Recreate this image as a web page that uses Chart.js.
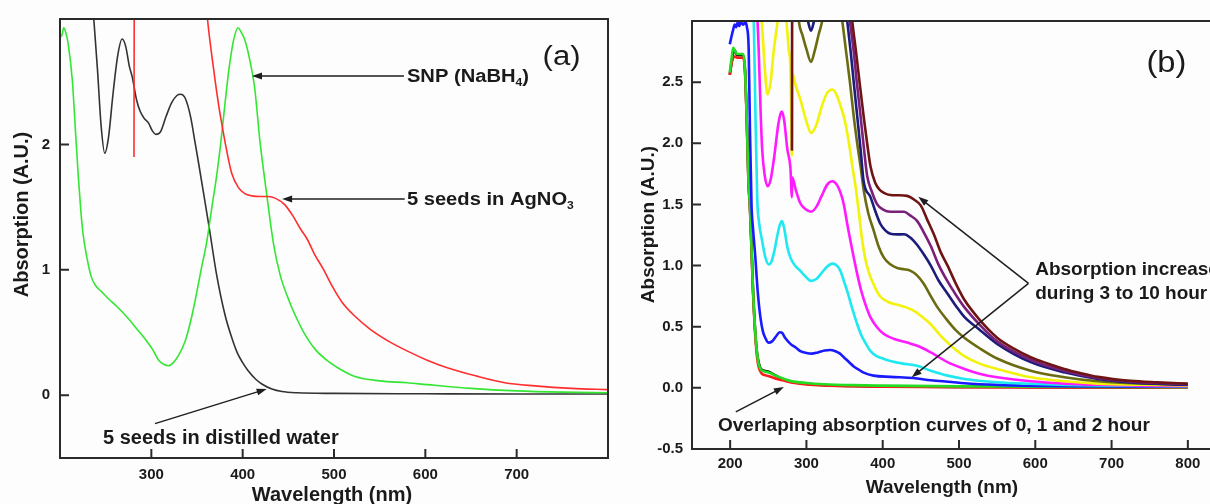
<!DOCTYPE html>
<html>
<head>
<meta charset="utf-8">
<title>UV-Vis absorption spectra</title>
<script src="https://cdn.jsdelivr.net/npm/chart.js@4.4.0/dist/chart.umd.min.js"></script>
<style>
  html, body { margin: 0; padding: 0; background: #fdfdfd; overflow: hidden; }
  canvas { display: block; }
  .panel { position: absolute; top: 0; height: 504px; overflow: hidden; }
  #panelA { left: 0; width: 610px; }
  #panelB { left: 610px; width: 600px; }
</style>
</head>
<body>
<div class="panel" id="panelA"><canvas id="chartA" width="610" height="507"></canvas></div>
<div class="panel" id="panelB"><canvas id="chartB" width="616" height="504"></canvas></div>
<script>
// ---- panel (a) data: wavelength (nm) / absorption (A.U.)
const waterX = [230, 237, 241, 245, 249, 253, 258, 263, 268, 272, 276, 279, 284, 288, 292, 297, 301, 305, 310, 316, 322, 328, 332, 337, 343, 348, 352, 357, 363.5, 371.5, 380.7, 388, 394, 400, 406, 414, 421, 432, 443, 460, 500, 600, 700, 800];
const waterY = [3.6, 3.0, 2.6, 2.15, 1.93, 2.05, 2.4, 2.7, 2.84, 2.78, 2.62, 2.54, 2.35, 2.26, 2.21, 2.17, 2.11, 2.08, 2.1, 2.22, 2.33, 2.39, 2.40, 2.37, 2.22, 2.01, 1.84, 1.62, 1.33, 0.96, 0.64, 0.46, 0.34, 0.26, 0.195, 0.13, 0.09, 0.05, 0.03, 0.02, 0.015, 0.012, 0.01, 0.01];

const agno3X = [281, 281.5, 355, 361.5, 366, 370, 374, 377, 382, 388, 395, 402, 410, 420, 428, 436, 446, 455, 463, 471, 479, 488, 498, 509, 523, 539, 560, 581, 602, 624, 655, 687, 720, 760, 800];
const agno3Y = [1.90, 3.8, 3.6, 3.0, 2.72, 2.5, 2.3, 2.17, 1.97, 1.77, 1.66, 1.61, 1.59, 1.585, 1.585, 1.57, 1.52, 1.43, 1.33, 1.24, 1.12, 1.01, 0.87, 0.74, 0.63, 0.53, 0.43, 0.35, 0.28, 0.22, 0.155, 0.10, 0.075, 0.055, 0.045];

const snpX = [200, 202.5, 204, 206, 209, 213.5, 217, 220, 222.5, 225, 229.8, 234, 238.9, 245, 253, 262, 275, 284, 293, 301, 308, 314, 319, 324, 330, 337, 344, 350, 355, 360.6, 366, 371.5, 376, 381, 385, 390, 395, 398, 402, 407, 413, 419, 426, 433.5, 441, 451, 460, 467, 479, 492, 504, 523, 550, 580, 602, 650, 700, 750, 800];
const snpY = [2.85, 2.88, 2.93, 2.90, 2.8, 2.51, 2.1, 1.75, 1.5, 1.3, 1.085, 0.95, 0.875, 0.83, 0.77, 0.71, 0.61, 0.53, 0.45, 0.37, 0.28, 0.245, 0.235, 0.26, 0.32, 0.43, 0.62, 0.83, 1.02, 1.22, 1.485, 1.75, 2.01, 2.35, 2.6, 2.83, 2.93, 2.90, 2.84, 2.7, 2.46, 2.02, 1.62, 1.22, 0.96, 0.75, 0.6, 0.5, 0.37, 0.28, 0.22, 0.15, 0.115, 0.1, 0.085, 0.055, 0.035, 0.025, 0.02];

const xTicksA = [300, 400, 500, 600, 700];
const yTicksA = [0, 1, 2];

// ---- panel (b) data: spectra recorded every hour, 0 to 10 h
const wlLow = [199.5, 202, 204, 206, 209, 213, 217, 219.5, 222, 224, 226, 228, 230, 232, 234.5, 237, 241, 248, 253, 260, 270, 280, 300, 323, 360, 400, 500, 600, 700, 800];
const abs0h = [2.56, 2.66, 2.74, 2.76, 2.72, 2.72, 2.72, 2.6, 2.15, 1.7, 1.48, 1.15, 0.8, 0.55, 0.33, 0.22, 0.15, 0.135, 0.125, 0.1, 0.07, 0.05, 0.035, 0.022, 0.015, 0.012, 0.008, 0.006, 0.004, 0.003];
const abs1h = [2.56, 2.66, 2.70, 2.71, 2.70, 2.70, 2.70, 2.58, 2.13, 1.68, 1.46, 1.13, 0.78, 0.52, 0.3, 0.18, 0.12, 0.1, 0.09, 0.075, 0.06, 0.045, 0.028, 0.019, 0.013, 0.01, 0.006, 0.004, 0.003, 0.002];
const abs2h = [2.58, 2.7, 2.78, 2.76, 2.73, 2.73, 2.73, 2.6, 2.15, 1.7, 1.48, 1.15, 0.8, 0.55, 0.33, 0.21, 0.145, 0.13, 0.12, 0.1, 0.075, 0.055, 0.04, 0.03, 0.022, 0.018, 0.012, 0.01, 0.008, 0.006];

const wl3h = [199.5, 202, 204, 206, 208, 210, 212, 214, 217, 220, 222, 224.3, 226, 228, 230, 233, 236, 239.6, 243, 246, 250, 255, 260, 265, 268, 272, 279, 286, 292, 300, 307, 315, 324, 331, 338, 344, 349, 356, 362, 367, 375, 388, 410, 440, 463, 490, 507, 550, 600, 638, 700, 800];
const abs3h = [2.81, 2.88, 2.93, 2.97, 2.95, 2.99, 2.96, 2.99, 2.97, 2.99, 2.95, 2.77, 2.1, 1.5, 1.3, 1.07, 0.8, 0.58, 0.46, 0.41, 0.37, 0.38, 0.42, 0.455, 0.45, 0.41, 0.36, 0.33, 0.30, 0.285, 0.28, 0.29, 0.305, 0.31, 0.30, 0.28, 0.25, 0.21, 0.175, 0.155, 0.125, 0.10, 0.09, 0.08, 0.062, 0.048, 0.038, 0.024, 0.016, 0.013, 0.011, 0.01];

const wl4h = [225, 229, 231, 233, 235.5, 238, 242, 246, 250.5, 254, 258, 262, 265, 268, 271, 275, 279, 285, 292, 299, 306, 313, 320, 327, 334, 340, 345, 349, 354, 360, 366.6, 372, 378, 384, 392, 400, 410, 425, 445, 463, 485, 507, 550, 594, 640, 682, 740, 800];
const abs4h = [3.4, 3.2, 3.0, 2.3, 1.55, 1.35, 1.20, 1.07, 1.01, 1.03, 1.12, 1.25, 1.33, 1.365, 1.3, 1.15, 1.065, 1.0, 0.957, 0.91, 0.875, 0.89, 0.94, 0.99, 1.016, 1.0, 0.95, 0.875, 0.78, 0.65, 0.52, 0.43, 0.36, 0.30, 0.26, 0.24, 0.22, 0.2, 0.18, 0.14, 0.10, 0.073, 0.046, 0.033, 0.024, 0.019, 0.015, 0.013];

const wl5h = [230, 235, 237.4, 240, 242, 245, 249, 253, 258, 263, 266, 268, 271, 275, 279, 281, 281.5, 286, 292, 299, 306, 313, 320, 327, 334, 340, 345, 349, 353.5, 360, 366.6, 372, 378, 384, 392, 401.5, 415, 432, 447, 463, 485, 507, 528, 550, 594, 638, 682, 740, 800];
const abs5h = [3.5, 3.1, 2.77, 2.25, 1.95, 1.75, 1.65, 1.7, 1.9, 2.15, 2.24, 2.26, 2.18, 1.95, 1.8, 1.56, 1.72, 1.62, 1.51, 1.46, 1.44, 1.48, 1.57, 1.66, 1.69, 1.66, 1.59, 1.5, 1.34, 1.13, 0.93, 0.79, 0.67, 0.576, 0.5, 0.44, 0.4, 0.37, 0.34, 0.29, 0.21, 0.155, 0.114, 0.087, 0.054, 0.035, 0.025, 0.018, 0.015];

const wl6h = [232, 240, 242, 245, 249, 253, 257, 262.4, 266, 270, 274, 276.8, 279, 281, 281.5, 286, 292, 299, 306, 313, 320, 327, 334, 340, 345, 349, 355, 360, 365, 369, 373, 377, 382, 390, 397, 408, 419, 430, 441, 452, 463, 474, 485, 496, 507, 528, 550, 594, 638, 682, 740, 800];
const abs6h = [3.5, 3.1, 2.95, 2.65, 2.40, 2.5, 2.75, 3.0, 3.15, 3.15, 2.98, 2.77, 2.62, 1.90, 2.57, 2.47, 2.36, 2.2, 2.085, 2.15, 2.3, 2.41, 2.44, 2.39, 2.3, 2.22, 2.03, 1.82, 1.62, 1.42, 1.21, 1.06, 0.94, 0.82, 0.745, 0.70, 0.68, 0.66, 0.63, 0.58, 0.52, 0.44, 0.37, 0.31, 0.26, 0.196, 0.155, 0.087, 0.054, 0.035, 0.025, 0.019];

const wl7h = [285, 290, 295, 300, 306, 311, 316, 320.6, 325, 340, 347, 352, 357, 362, 367, 371, 375, 381, 388, 395, 401.5, 410, 419, 428, 436.6, 445, 454, 463, 471.6, 485, 496, 507, 528, 550, 594, 638, 682, 725, 800];
const abs7h = [3.4, 3.0, 2.88, 2.77, 2.665, 2.76, 2.89, 3.0, 3.2, 3.3, 3.0, 2.75, 2.5, 2.22, 1.98, 1.81, 1.62, 1.43, 1.29, 1.15, 1.065, 1.01, 0.98, 0.97, 0.957, 0.92, 0.85, 0.75, 0.66, 0.55, 0.47, 0.41, 0.32, 0.24, 0.14, 0.087, 0.054, 0.038, 0.025];

const wl8h = [290, 299, 302, 306, 310, 314, 320, 345, 353.5, 358, 362, 366.6, 371, 375, 384, 390, 397, 403, 410, 419, 428, 436, 445, 454, 463, 473, 485, 496, 507, 528, 550, 594, 638, 682, 725, 800];
const abs8h = [3.3, 3.1, 3.0, 2.92, 3.0, 3.1, 3.3, 3.4, 3.0, 2.75, 2.5, 2.22, 1.95, 1.69, 1.56, 1.45, 1.34, 1.29, 1.26, 1.255, 1.256, 1.23, 1.17, 1.09, 1.0, 0.88, 0.77, 0.67, 0.58, 0.47, 0.36, 0.21, 0.127, 0.073, 0.045, 0.025];

const wl9h = [350, 357, 362, 366, 371, 375, 379.7, 386, 392.8, 400, 410, 420, 428, 436, 445, 454, 463, 473, 485, 496, 507, 528, 550, 594, 638, 682, 725, 800];
const abs9h = [3.4, 3.0, 2.75, 2.5, 2.22, 1.98, 1.73, 1.6, 1.50, 1.46, 1.44, 1.44, 1.44, 1.41, 1.365, 1.27, 1.16, 1.01, 0.87, 0.76, 0.66, 0.51, 0.38, 0.23, 0.14, 0.08, 0.05, 0.03];

const wl10h = [281, 281.5, 350, 360, 365, 370, 375, 380, 384, 390, 396, 401.5, 410, 420, 432, 441, 450, 458, 467, 476, 485, 496, 507, 528, 550, 572, 594, 616, 638, 660, 682, 725, 760, 800];
const abs10h = [1.94, 3.6, 3.6, 3.0, 2.75, 2.48, 2.22, 1.98, 1.81, 1.68, 1.62, 1.595, 1.577, 1.575, 1.57, 1.54, 1.49, 1.38, 1.256, 1.11, 1.0, 0.85, 0.72, 0.55, 0.41, 0.32, 0.25, 0.2, 0.155, 0.12, 0.09, 0.057, 0.045, 0.035];

const xTicksB = [200, 300, 400, 500, 600, 700, 800];
const yTicksB = [-0.5, 0.0, 0.5, 1.0, 1.5, 2.0, 2.5];

const FONT = "'Liberation Sans', Arial, Helvetica, sans-serif";
Chart.defaults.font.family = FONT;
Chart.defaults.color = '#1a1a1a';

function series(xs, ys, color, width, order) {
  return {
    data: xs.map((v, i) => ({ x: v, y: ys[i] })),
    borderColor: color,
    borderWidth: width,
    pointRadius: 0,
    showLine: true,
    fill: false,
    cubicInterpolationMode: 'monotone',
    order: order
  };
}

function axis(min, max, ticks, fmt, pad, fitSize, horizontal) {
  return {
    type: 'linear', min: min, max: max,
    afterBuildTicks: s => { s.ticks = ticks.map(v => ({ value: v })); },
    afterFit: s => { if (horizontal) s.height = fitSize; else s.width = fitSize; },
    grid: { display: false, drawTicks: false },
    border: { display: false },
    ticks: { padding: pad, autoSkip: false, maxRotation: 0, color: '#1a1a1a',
             font: { size: 15, weight: 'bold' }, callback: fmt }
  };
}

// text with optional subscript parts; y is the visual centre of the capitals,
// stretch widens the glyphs the way the original figure does
function richText(ctx, parts, x, y, size, weight, align, stretch) {
  const sx = stretch || 1;
  const widthOf = p => {
    ctx.font = weight + ' ' + (p.sub ? size * 0.6 : size) + 'px ' + FONT;
    return ctx.measureText(p.t).width;
  };
  const total = parts.reduce((s, p) => s + widthOf(p), 0) * sx;
  ctx.save();
  ctx.translate(align === 'center' ? x - total / 2 : x, y + size * 0.35);
  ctx.scale(sx, 1);
  ctx.textAlign = 'left';
  ctx.textBaseline = 'alphabetic';
  let cx = 0;
  parts.forEach(p => {
    const w = widthOf(p);
    ctx.fillText(p.t, cx, p.sub ? size * 0.22 : 0);
    cx += w;
  });
  ctx.restore();
}

function arrow(ctx, x1, y1, x2, y2) {
  const ang = Math.atan2(y2 - y1, x2 - x1);
  const len = 10, half = 3.5;
  ctx.beginPath();
  ctx.moveTo(x1, y1);
  ctx.lineTo(x2 - Math.cos(ang) * len * 0.8, y2 - Math.sin(ang) * len * 0.8);
  ctx.stroke();
  ctx.beginPath();
  ctx.moveTo(x2, y2);
  ctx.lineTo(x2 - Math.cos(ang) * len - Math.sin(ang) * half, y2 - Math.sin(ang) * len + Math.cos(ang) * half);
  ctx.lineTo(x2 - Math.cos(ang) * len + Math.sin(ang) * half, y2 - Math.sin(ang) * len - Math.cos(ang) * half);
  ctx.closePath();
  ctx.fill();
}

// frame, inward tick marks, arrows and labels (labels/arrows in data units)
function overlay(notes) {
  return {
    id: 'overlay',
    afterDatasetsDraw(chart) {
      const { ctx, chartArea: a, scales: { x, y } } = chart;
      ctx.save();
      ctx.strokeStyle = '#2a2a2a';
      ctx.lineWidth = 2;
      ctx.strokeRect(a.left, a.top, a.right - a.left, a.bottom - a.top);
      ctx.beginPath();
      x.ticks.forEach(t => { const p = x.getPixelForValue(t.value); ctx.moveTo(p, a.bottom); ctx.lineTo(p, a.bottom - 9); });
      y.ticks.forEach(t => { const p = y.getPixelForValue(t.value); ctx.moveTo(a.left, p); ctx.lineTo(a.left + 9, p); });
      ctx.stroke();

      ctx.strokeStyle = '#1e1e1e';
      ctx.fillStyle = '#1e1e1e';
      ctx.lineWidth = 1.5;
      notes.arrows.forEach(([x1, y1, x2, y2]) =>
        arrow(ctx, x.getPixelForValue(x1), y.getPixelForValue(y1), x.getPixelForValue(x2), y.getPixelForValue(y2)));

      ctx.fillStyle = '#1a1a1a';
      notes.labels.forEach(l =>
        richText(ctx, l.parts, x.getPixelForValue(l.x), y.getPixelForValue(l.y), l.size, l.weight || 'bold', l.align, l.stretch));

      // axis titles (canvas pixels)
      const tx = notes.xTitle, ty = notes.yTitle;
      ctx.font = 'bold ' + tx.size + 'px ' + FONT;
      ctx.textAlign = 'center';
      ctx.textBaseline = 'middle';
      ctx.fillText(tx.text, tx.x, tx.y);
      ctx.save();
      ctx.translate(ty.x, ty.y);
      ctx.rotate(-Math.PI / 2);
      ctx.font = 'bold ' + ty.size + 'px ' + FONT;
      ctx.fillText(ty.text, 0, 0);
      ctx.restore();
      ctx.restore();
    }
  };
}

const baseOptions = {
  responsive: false,
  animation: false,
  events: [],
  plugins: { legend: { display: false }, tooltip: { enabled: false } }
};

new Chart(document.getElementById('chartA'), {
  type: 'scatter',
  data: {
    datasets: [
      series(agno3X, agno3Y, '#ff2e2e', 1.6, 0),
      series(snpX, snpY, '#33e633', 1.6, 1),
      series(waterX, waterY, '#333333', 1.6, 2)
    ]
  },
  options: Object.assign({}, baseOptions, {
    layout: { padding: { left: 0, top: 15, right: 2, bottom: 0 } },
    scales: {
      x: axis(200, 800, xTicksA, v => String(v), 8, 49, true),
      y: axis(-0.5, 3.0, yTicksA, v => String(v), 10, 60, false)
    }
  }),
  plugins: [overlay({
    arrows: [
      [576.6, 2.546, 410.2, 2.546],
      [577.4, 1.564, 443.2, 1.564],
      [304, -0.226, 426.3, 0.05]
    ],
    labels: [
      { parts: [{ t: 'SNP (NaBH' }, { t: '4', sub: true }, { t: ')' }], x: 579.8, y: 2.546, size: 18, stretch: 1.12 },
      { parts: [{ t: '5 seeds in AgNO' }, { t: '3', sub: true }], x: 579.8, y: 1.564, size: 18, stretch: 1.12 },
      { parts: [{ t: '5 seeds in distilled water' }], x: 247.1, y: -0.329, size: 20 },
      { parts: [{ t: '(a)' }], x: 749.1, y: 2.71, size: 27, weight: 'normal', align: 'center', stretch: 1.15 }
    ],
    xTitle: { text: 'Wavelength (nm)', x: 332, y: 495, size: 20 },
    yTitle: { text: 'Absorption (A.U.)', x: 22, y: 214.5, size: 20 }
  })]
});

const hourColors = ['#111111', '#ff1a1a', '#22dd22', '#1a1aff', '#1ee8f0', '#ff1aff', '#f2f20a', '#6b6b12', '#1c1c7a', '#7a1f7a', '#6e1414'];
const hourX = [wlLow, wlLow, wlLow, wl3h, wl4h, wl5h, wl6h, wl7h, wl8h, wl9h, wl10h];
const hourY = [abs0h, abs1h, abs2h, abs3h, abs4h, abs5h, abs6h, abs7h, abs8h, abs9h, abs10h];

new Chart(document.getElementById('chartB'), {
  type: 'scatter',
  data: {
    datasets: hourX.map((xs, h) => series(xs, hourY[h], hourColors[h], 2.6, 10 - h))
  },
  options: Object.assign({}, baseOptions, {
    layout: { padding: { left: 0, top: 21, right: 0, bottom: 0 } },
    scales: {
      x: axis(150, 850, xTicksB, v => String(v), 6, 55, true),
      y: axis(-0.5, 3.0, yTicksB, v => v.toFixed(1), 9, 82, false)
    }
  }),
  plugins: [overlay({
    arrows: [
      [591.1, 0.854, 446.7, 1.562],
      [591.1, 0.854, 438.0, 0.086],
      [207.4, -0.196, 270.4, 0.007]
    ],
    labels: [
      { parts: [{ t: 'Absorption increase' }], x: 599.9, y: 0.977, size: 19 },
      { parts: [{ t: 'during 3 to 10 hour' }], x: 599.9, y: 0.779, size: 19 },
      { parts: [{ t: 'Overlaping absorption curves of 0, 1 and 2 hour' }], x: 184.1, y: -0.302, size: 19 },
      { parts: [{ t: '(b)' }], x: 771.9, y: 2.668, size: 30, weight: 'normal', align: 'center', stretch: 1.09 }
    ],
    xTitle: { text: 'Wavelength (nm)', x: 332, y: 487.5, size: 19 },
    yTitle: { text: 'Absorption (A.U.)', x: 39, y: 224.5, size: 19 }
  })]
});
</script>
</body>
</html>
